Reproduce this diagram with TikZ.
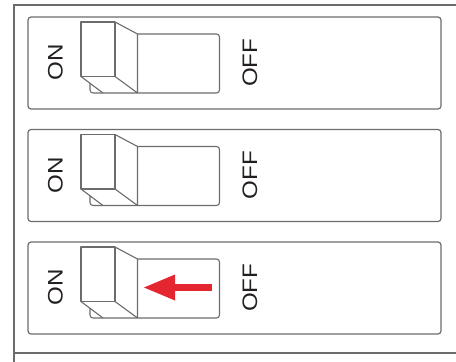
\documentclass[tikz,border=0pt]{standalone}
\usepackage{fontspec}
\usepackage{graphicx}
\setmainfont{Liberation Sans}
\usetikzlibrary{arrows.meta}

\definecolor{framegray}{RGB}{108,108,108}
\definecolor{textdark}{RGB}{35,31,32}
\definecolor{arrowred}{RGB}{228,38,48}

\newcommand{\widetext}[1]{\scalebox{1.15}[1]{#1}}

\tikzset{
  panelbox/.style={draw=framegray, line width=1.2pt, rounded corners=3pt,
    minimum width=413pt, minimum height=92pt, inner sep=0pt},
  switchline/.style={draw=framegray, line width=1.1pt, line join=round},
  switchtext/.style={font=\fontsize{21}{25}\selectfont, text=textdark,
    rotate=90, inner sep=0pt},
}

\begin{document}
\begin{tikzpicture}[x=1pt,y=-1pt]
  \useasboundingbox (0,0) rectangle (456,362);

  % cabinet frame
  \draw[framegray, line width=1.3pt] (456,5) -- (14,5) -- (14,362);
  \draw[framegray, line width=1.3pt] (14,353) -- (456,353);

  \foreach[count=\i] \y in {17,129.5,242} {
    \begin{scope}[shift={(0,\y)}]
      \node[panelbox] (panel\i) at (234.5,46) {};
      \node[switchtext] (on\i) at (55.5,45.5) {\widetext{ON}};
      \node[switchtext] (off\i) at (250,45.7) {\widetext{OFF}};
      % base of the breaker
      \draw[switchline, rounded corners=3pt] (137.5,17) -- (219.5,17) -- (219.5,76) -- (137.5,76);
      % toggle
      \draw[switchline] (81,5) rectangle (115,59.5);
      \draw[switchline] (115,5) -- (137.5,17) -- (137.5,76) -- (115,59.5);
      \draw[switchline] (81,59.5) -- (103,76);
      \draw[switchline, rounded corners=3pt] (90,66) -- (90,76) -- (137.5,76);
    \end{scope}
  }

  \begin{scope}[shift={(0,242)}]
    \coordinate (arrowstart) at (211.5,45.5);
    \coordinate (arrowtip) at (144,45.5);
  \end{scope}
  \draw[arrowred, line width=7pt, -{Triangle[length=31pt,width=26pt,line width=0pt]}] (arrowstart) -- (arrowtip);
\end{tikzpicture}
\end{document}
